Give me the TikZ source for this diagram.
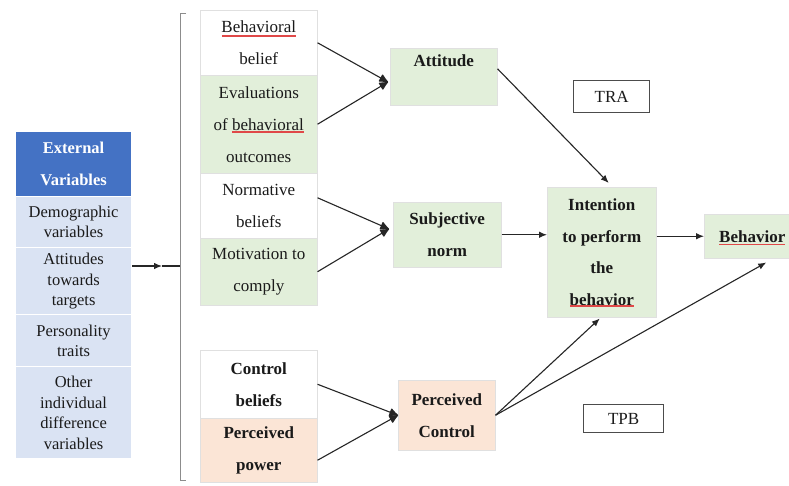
\documentclass[tikz,border=0pt]{standalone}
\usepackage{fontspec}
\setmainfont{Liberation Serif}
\usetikzlibrary{arrows.meta,calc}
\definecolor{extblue}{HTML}{4472C4}
\definecolor{extlight}{HTML}{DAE3F3}
\definecolor{boxgreen}{HTML}{E2EFDA}
\definecolor{boxpeach}{HTML}{FBE5D6}
\definecolor{inkcol}{HTML}{1A1A1A}
\definecolor{spellred}{HTML}{E04848}
\begin{document}
\begin{tikzpicture}[x=1pt,y=-1pt,
  cell/.style={anchor=north west, inner sep=0pt, align=center, text=inkcol,
    draw=black!12, line width=0.5pt},
  extcell/.style={cell, draw=white, line width=1.2pt, fill=extlight,
    font=\fontsize{16.5}{20.5}\selectfont},
  midcell/.style={cell, font=\fontsize{17}{32}\selectfont},
  keycell/.style={cell, font=\bfseries\fontsize{17}{32}\selectfont},
  tagbox/.style={anchor=north west, inner sep=0pt, draw=black!70, line width=1.3pt,
    fill=white, text=inkcol, font=\fontsize{17}{20}\selectfont},
  arr/.style={-{Latex[length=8pt,width=6.5pt]}, line width=1.1pt, draw=black!85},
  joinarr/.style={-{Latex[length=10pt,width=9pt,round]}, line width=1.1pt, draw=black!85},
  brace/.style={draw=black!45, line width=0.8pt},
  spell/.style={draw=spellred, line width=1.3pt}]

\fill[white] (0,0) rectangle (789,485);
\useasboundingbox (0,0) rectangle (789,485);
\clip (0,0) rectangle (789,485);

% external variables column
\node[extcell, fill=extblue, text=white, font=\bfseries\fontsize{16.5}{32}\selectfont,
  minimum width=116pt, minimum height=65pt] (ext) at (15,131) {External\\Variables};
\node[extcell, minimum width=116pt, minimum height=51pt] (dem) at (15,196) {Demographic\\variables};
\node[extcell, minimum width=116pt, minimum height=67pt] (atg) at (15,247) {Attitudes\\towards\\targets};
\node[extcell, minimum width=116pt, minimum height=52pt] (per) at (15,314) {Personality\\traits};
\node[extcell, minimum width=116pt, minimum height=92pt] (oth) at (15,366) {Other\\individual\\difference\\variables};

% brace gathering the belief blocks
\coordinate (brk) at (180,266);
\coordinate (tick) at (162,266);
\draw[brace] (186,13) -- (180,13) -- (180,480) -- (186,480);
\draw[arr] (atg.east |- brk) -- (tick);
\draw[line width=1.1pt, draw=black!85] (tick) -- (brk);

% belief column
\node[midcell, fill=white, minimum width=117pt, minimum height=65pt] (bb) at (200,10) {Behavioral\\belief};
\node[midcell, fill=boxgreen, minimum width=117pt, minimum height=98pt] (ev) at (200,75) {Evaluations\\of behavioral\\outcomes};
\node[midcell, fill=white, minimum width=117pt, minimum height=65pt] (nb) at (200,173) {Normative\\beliefs};
\node[midcell, fill=boxgreen, minimum width=117pt, minimum height=67pt] (mc) at (200,238) {Motivation to\\comply};
\node[keycell, fill=white, minimum width=117pt, minimum height=68pt] (cb) at (200,350) {Control\\beliefs};
\node[keycell, fill=boxpeach, minimum width=117pt, minimum height=64pt] (pp) at (200,418) {Perceived\\power};

% constructs
\node[keycell, fill=boxgreen, minimum width=107pt, minimum height=57pt] (att) at (390,48) {Attitude\\\mbox{}};
\node[keycell, fill=boxgreen, minimum width=108pt, minimum height=65pt] (sn) at (393,202) {Subjective\\norm};
\node[keycell, fill=boxpeach, minimum width=97pt, minimum height=70pt] (pc) at (398,380) {Perceived\\Control};
\node[keycell, fill=boxgreen, minimum width=109pt, minimum height=130pt,
  font=\bfseries\fontsize{17}{31.5}\selectfont] (int) at (547,187) {Intention\\to perform\\the\\behavior};
\node[keycell, fill=boxgreen, minimum width=96pt, minimum height=44pt] (beh) at (704,214) {Behavior};

% spell-check marks under the flagged words
\draw[spell] ($(bb.north)+(-37,26)$) -- +(74,0);
\draw[spell] ($(ev.north)+(-26.5,57)$) -- +(72,0);
\draw[spell] ($(int.north)+(-31.5,119)$) -- +(64,0);
\draw[spell] ($(beh.center)+(-33,8)$) -- +(66,0);

% model tags
\node[tagbox, minimum width=76pt, minimum height=32pt] (tra) at (573,80) {TRA};
\node[tagbox, minimum width=80pt, minimum height=28pt] (tpb) at (583,404) {TPB};

% joins into the constructs
\coordinate (jatt) at (388,82);
\coordinate (jsn) at (389,229);
\draw[joinarr] (bb.east) -- (jatt);
\draw[joinarr] (ev.east) -- (jatt);
\draw[joinarr] ($(nb.east)+(0,-8)$) -- (jsn);
\draw[joinarr] (mc.east) -- (jsn);
\draw[joinarr] (cb.east) -- (pc.west);
\draw[joinarr] ($(pp.east)+(0,10)$) -- (pc.west);

% paths to intention and behavior
\draw[arr] ($(att.east)+(0,-8)$) -- ($(int.north)+(7,-4)$);
\draw[arr] (sn.east) -- (sn.east -| int.west);
\draw[arr] (int.east |- beh.west) -- (beh.west);
\draw[arr] (pc.east) -- ($(int.south)+(-2,1)$);
\draw[arr] (pc.east) -- ($(beh.south)+(14,4)$);
\end{tikzpicture}
\end{document}
